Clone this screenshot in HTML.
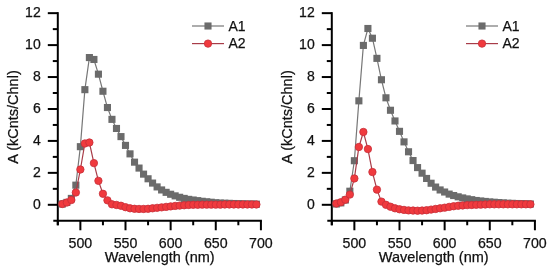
<!DOCTYPE html>
<html><head><meta charset="utf-8"><style>
text{stroke:#111;stroke-width:0.25px}
html,body{margin:0;padding:0;background:#fff;width:550px;height:268px;overflow:hidden}
svg{display:block;filter:blur(0.35px)}
</style></head><body>
<svg width="550" height="268" viewBox="0 0 550 268">
<rect width="550" height="268" fill="#fff"/>
<g stroke="#000" stroke-width="2" fill="none">
<line x1="57.80" y1="12.16" x2="57.80" y2="225.27"/>
<line x1="53.30" y1="220.77" x2="261.91" y2="220.77"/>
<line x1="47.80" y1="204.80" x2="57.80" y2="204.80"/>
<line x1="52.80" y1="188.83" x2="57.80" y2="188.83"/>
<line x1="47.80" y1="172.86" x2="57.80" y2="172.86"/>
<line x1="52.80" y1="156.89" x2="57.80" y2="156.89"/>
<line x1="47.80" y1="140.92" x2="57.80" y2="140.92"/>
<line x1="52.80" y1="124.95" x2="57.80" y2="124.95"/>
<line x1="47.80" y1="108.98" x2="57.80" y2="108.98"/>
<line x1="52.80" y1="93.01" x2="57.80" y2="93.01"/>
<line x1="47.80" y1="77.04" x2="57.80" y2="77.04"/>
<line x1="52.80" y1="61.07" x2="57.80" y2="61.07"/>
<line x1="47.80" y1="45.10" x2="57.80" y2="45.10"/>
<line x1="52.80" y1="29.13" x2="57.80" y2="29.13"/>
<line x1="47.80" y1="13.16" x2="57.80" y2="13.16"/>
<line x1="57.80" y1="220.77" x2="57.80" y2="225.27"/>
<line x1="80.37" y1="220.77" x2="80.37" y2="230.27"/>
<line x1="102.94" y1="220.77" x2="102.94" y2="225.27"/>
<line x1="125.50" y1="220.77" x2="125.50" y2="230.27"/>
<line x1="148.07" y1="220.77" x2="148.07" y2="225.27"/>
<line x1="170.64" y1="220.77" x2="170.64" y2="230.27"/>
<line x1="193.20" y1="220.77" x2="193.20" y2="225.27"/>
<line x1="215.77" y1="220.77" x2="215.77" y2="230.27"/>
<line x1="238.34" y1="220.77" x2="238.34" y2="225.27"/>
<line x1="260.91" y1="220.77" x2="260.91" y2="230.27"/>
</g>
<g style="font-family:'Liberation Sans',sans-serif;font-size:14px" fill="#111" text-anchor="end">
<text x="40.70" y="208.60">0</text>
<text x="40.70" y="176.66">2</text>
<text x="40.70" y="144.72">4</text>
<text x="40.70" y="112.78">6</text>
<text x="40.70" y="80.84">8</text>
<text x="40.70" y="48.90">10</text>
<text x="40.70" y="16.96">12</text>
</g>
<g style="font-family:'Liberation Sans',sans-serif;font-size:14.2px" fill="#111" text-anchor="middle">
<text x="80.37" y="248.1">500</text>
<text x="125.50" y="248.1">550</text>
<text x="170.64" y="248.1">600</text>
<text x="215.77" y="248.1">650</text>
<text x="260.91" y="248.1">700</text>
</g>
<text style="font-family:'Liberation Sans',sans-serif;font-size:14.5px" fill="#111" text-anchor="middle" x="159.70" y="261.7">Wavelength (nm)</text>
<text style="font-family:'Liberation Sans',sans-serif;font-size:14.5px" fill="#111" text-anchor="middle" transform="translate(18.40,117.00) rotate(-90)">A (kCnts/Chnl)</text>
<polyline points="62.31,204.00 66.83,202.40 71.34,198.41 75.85,185.16 80.37,146.67 84.88,89.66 89.39,57.56 93.91,59.47 98.42,74.17 102.94,91.25 107.45,107.54 111.96,119.36 116.48,128.46 120.99,136.61 125.50,145.39 130.02,153.86 134.53,162.16 139.04,168.07 143.56,174.14 148.07,178.77 152.58,183.08 157.10,186.91 161.61,189.95 166.12,192.34 170.64,194.26 175.15,195.86 179.66,197.29 184.18,198.41 188.69,199.37 193.20,200.01 197.72,200.65 202.23,201.29 206.75,201.77 211.26,202.24 215.77,202.72 220.29,203.04 224.80,203.20 229.31,203.36 233.83,203.52 238.34,203.68 242.85,203.84 247.37,204.00 251.88,204.00 256.39,204.16" fill="none" stroke="#777777" stroke-width="1.2"/>
<rect x="58.76" y="200.45" width="7.1" height="7.1" fill="#6b6b6b"/>
<rect x="63.28" y="198.85" width="7.1" height="7.1" fill="#6b6b6b"/>
<rect x="67.79" y="194.86" width="7.1" height="7.1" fill="#6b6b6b"/>
<rect x="72.30" y="181.61" width="7.1" height="7.1" fill="#6b6b6b"/>
<rect x="76.82" y="143.12" width="7.1" height="7.1" fill="#6b6b6b"/>
<rect x="81.33" y="86.11" width="7.1" height="7.1" fill="#6b6b6b"/>
<rect x="85.84" y="54.01" width="7.1" height="7.1" fill="#6b6b6b"/>
<rect x="90.36" y="55.92" width="7.1" height="7.1" fill="#6b6b6b"/>
<rect x="94.87" y="70.62" width="7.1" height="7.1" fill="#6b6b6b"/>
<rect x="99.39" y="87.70" width="7.1" height="7.1" fill="#6b6b6b"/>
<rect x="103.90" y="103.99" width="7.1" height="7.1" fill="#6b6b6b"/>
<rect x="108.41" y="115.81" width="7.1" height="7.1" fill="#6b6b6b"/>
<rect x="112.93" y="124.91" width="7.1" height="7.1" fill="#6b6b6b"/>
<rect x="117.44" y="133.06" width="7.1" height="7.1" fill="#6b6b6b"/>
<rect x="121.95" y="141.84" width="7.1" height="7.1" fill="#6b6b6b"/>
<rect x="126.47" y="150.31" width="7.1" height="7.1" fill="#6b6b6b"/>
<rect x="130.98" y="158.61" width="7.1" height="7.1" fill="#6b6b6b"/>
<rect x="135.49" y="164.52" width="7.1" height="7.1" fill="#6b6b6b"/>
<rect x="140.01" y="170.59" width="7.1" height="7.1" fill="#6b6b6b"/>
<rect x="144.52" y="175.22" width="7.1" height="7.1" fill="#6b6b6b"/>
<rect x="149.03" y="179.53" width="7.1" height="7.1" fill="#6b6b6b"/>
<rect x="153.55" y="183.36" width="7.1" height="7.1" fill="#6b6b6b"/>
<rect x="158.06" y="186.40" width="7.1" height="7.1" fill="#6b6b6b"/>
<rect x="162.57" y="188.79" width="7.1" height="7.1" fill="#6b6b6b"/>
<rect x="167.09" y="190.71" width="7.1" height="7.1" fill="#6b6b6b"/>
<rect x="171.60" y="192.31" width="7.1" height="7.1" fill="#6b6b6b"/>
<rect x="176.11" y="193.74" width="7.1" height="7.1" fill="#6b6b6b"/>
<rect x="180.63" y="194.86" width="7.1" height="7.1" fill="#6b6b6b"/>
<rect x="185.14" y="195.82" width="7.1" height="7.1" fill="#6b6b6b"/>
<rect x="189.65" y="196.46" width="7.1" height="7.1" fill="#6b6b6b"/>
<rect x="194.17" y="197.10" width="7.1" height="7.1" fill="#6b6b6b"/>
<rect x="198.68" y="197.74" width="7.1" height="7.1" fill="#6b6b6b"/>
<rect x="203.20" y="198.22" width="7.1" height="7.1" fill="#6b6b6b"/>
<rect x="207.71" y="198.69" width="7.1" height="7.1" fill="#6b6b6b"/>
<rect x="212.22" y="199.17" width="7.1" height="7.1" fill="#6b6b6b"/>
<rect x="216.74" y="199.49" width="7.1" height="7.1" fill="#6b6b6b"/>
<rect x="221.25" y="199.65" width="7.1" height="7.1" fill="#6b6b6b"/>
<rect x="225.76" y="199.81" width="7.1" height="7.1" fill="#6b6b6b"/>
<rect x="230.28" y="199.97" width="7.1" height="7.1" fill="#6b6b6b"/>
<rect x="234.79" y="200.13" width="7.1" height="7.1" fill="#6b6b6b"/>
<rect x="239.30" y="200.29" width="7.1" height="7.1" fill="#6b6b6b"/>
<rect x="243.82" y="200.45" width="7.1" height="7.1" fill="#6b6b6b"/>
<rect x="248.33" y="200.45" width="7.1" height="7.1" fill="#6b6b6b"/>
<rect x="252.84" y="200.61" width="7.1" height="7.1" fill="#6b6b6b"/>
<polyline points="62.31,204.00 66.83,202.56 71.34,200.01 75.85,192.50 80.37,169.51 84.88,143.48 89.39,142.52 93.91,163.12 98.42,180.84 102.94,193.78 107.45,200.33 111.96,204.32 116.48,204.96 120.99,205.76 125.50,207.20 130.02,208.31 134.53,208.79 139.04,208.95 143.56,208.95 148.07,208.79 152.58,208.31 157.10,207.83 161.61,207.36 166.12,206.88 170.64,206.40 175.15,205.92 179.66,205.60 184.18,205.28 188.69,204.96 193.20,204.80 197.72,204.80 202.23,204.64 206.75,204.64 211.26,204.64 215.77,204.64 220.29,204.64 224.80,204.48 229.31,204.48 233.83,204.48 238.34,204.48 242.85,204.48 247.37,204.48 251.88,204.48 256.39,204.48" fill="none" stroke="#a83c48" stroke-width="1.2"/>
<circle cx="62.31" cy="204.00" r="3.7" fill="#f03a3e" stroke="#c62e38" stroke-width="0.8"/>
<circle cx="66.83" cy="202.56" r="3.7" fill="#f03a3e" stroke="#c62e38" stroke-width="0.8"/>
<circle cx="71.34" cy="200.01" r="3.7" fill="#f03a3e" stroke="#c62e38" stroke-width="0.8"/>
<circle cx="75.85" cy="192.50" r="3.7" fill="#f03a3e" stroke="#c62e38" stroke-width="0.8"/>
<circle cx="80.37" cy="169.51" r="3.7" fill="#f03a3e" stroke="#c62e38" stroke-width="0.8"/>
<circle cx="84.88" cy="143.48" r="3.7" fill="#f03a3e" stroke="#c62e38" stroke-width="0.8"/>
<circle cx="89.39" cy="142.52" r="3.7" fill="#f03a3e" stroke="#c62e38" stroke-width="0.8"/>
<circle cx="93.91" cy="163.12" r="3.7" fill="#f03a3e" stroke="#c62e38" stroke-width="0.8"/>
<circle cx="98.42" cy="180.84" r="3.7" fill="#f03a3e" stroke="#c62e38" stroke-width="0.8"/>
<circle cx="102.94" cy="193.78" r="3.7" fill="#f03a3e" stroke="#c62e38" stroke-width="0.8"/>
<circle cx="107.45" cy="200.33" r="3.7" fill="#f03a3e" stroke="#c62e38" stroke-width="0.8"/>
<circle cx="111.96" cy="204.32" r="3.7" fill="#f03a3e" stroke="#c62e38" stroke-width="0.8"/>
<circle cx="116.48" cy="204.96" r="3.7" fill="#f03a3e" stroke="#c62e38" stroke-width="0.8"/>
<circle cx="120.99" cy="205.76" r="3.7" fill="#f03a3e" stroke="#c62e38" stroke-width="0.8"/>
<circle cx="125.50" cy="207.20" r="3.7" fill="#f03a3e" stroke="#c62e38" stroke-width="0.8"/>
<circle cx="130.02" cy="208.31" r="3.7" fill="#f03a3e" stroke="#c62e38" stroke-width="0.8"/>
<circle cx="134.53" cy="208.79" r="3.7" fill="#f03a3e" stroke="#c62e38" stroke-width="0.8"/>
<circle cx="139.04" cy="208.95" r="3.7" fill="#f03a3e" stroke="#c62e38" stroke-width="0.8"/>
<circle cx="143.56" cy="208.95" r="3.7" fill="#f03a3e" stroke="#c62e38" stroke-width="0.8"/>
<circle cx="148.07" cy="208.79" r="3.7" fill="#f03a3e" stroke="#c62e38" stroke-width="0.8"/>
<circle cx="152.58" cy="208.31" r="3.7" fill="#f03a3e" stroke="#c62e38" stroke-width="0.8"/>
<circle cx="157.10" cy="207.83" r="3.7" fill="#f03a3e" stroke="#c62e38" stroke-width="0.8"/>
<circle cx="161.61" cy="207.36" r="3.7" fill="#f03a3e" stroke="#c62e38" stroke-width="0.8"/>
<circle cx="166.12" cy="206.88" r="3.7" fill="#f03a3e" stroke="#c62e38" stroke-width="0.8"/>
<circle cx="170.64" cy="206.40" r="3.7" fill="#f03a3e" stroke="#c62e38" stroke-width="0.8"/>
<circle cx="175.15" cy="205.92" r="3.7" fill="#f03a3e" stroke="#c62e38" stroke-width="0.8"/>
<circle cx="179.66" cy="205.60" r="3.7" fill="#f03a3e" stroke="#c62e38" stroke-width="0.8"/>
<circle cx="184.18" cy="205.28" r="3.7" fill="#f03a3e" stroke="#c62e38" stroke-width="0.8"/>
<circle cx="188.69" cy="204.96" r="3.7" fill="#f03a3e" stroke="#c62e38" stroke-width="0.8"/>
<circle cx="193.20" cy="204.80" r="3.7" fill="#f03a3e" stroke="#c62e38" stroke-width="0.8"/>
<circle cx="197.72" cy="204.80" r="3.7" fill="#f03a3e" stroke="#c62e38" stroke-width="0.8"/>
<circle cx="202.23" cy="204.64" r="3.7" fill="#f03a3e" stroke="#c62e38" stroke-width="0.8"/>
<circle cx="206.75" cy="204.64" r="3.7" fill="#f03a3e" stroke="#c62e38" stroke-width="0.8"/>
<circle cx="211.26" cy="204.64" r="3.7" fill="#f03a3e" stroke="#c62e38" stroke-width="0.8"/>
<circle cx="215.77" cy="204.64" r="3.7" fill="#f03a3e" stroke="#c62e38" stroke-width="0.8"/>
<circle cx="220.29" cy="204.64" r="3.7" fill="#f03a3e" stroke="#c62e38" stroke-width="0.8"/>
<circle cx="224.80" cy="204.48" r="3.7" fill="#f03a3e" stroke="#c62e38" stroke-width="0.8"/>
<circle cx="229.31" cy="204.48" r="3.7" fill="#f03a3e" stroke="#c62e38" stroke-width="0.8"/>
<circle cx="233.83" cy="204.48" r="3.7" fill="#f03a3e" stroke="#c62e38" stroke-width="0.8"/>
<circle cx="238.34" cy="204.48" r="3.7" fill="#f03a3e" stroke="#c62e38" stroke-width="0.8"/>
<circle cx="242.85" cy="204.48" r="3.7" fill="#f03a3e" stroke="#c62e38" stroke-width="0.8"/>
<circle cx="247.37" cy="204.48" r="3.7" fill="#f03a3e" stroke="#c62e38" stroke-width="0.8"/>
<circle cx="251.88" cy="204.48" r="3.7" fill="#f03a3e" stroke="#c62e38" stroke-width="0.8"/>
<circle cx="256.39" cy="204.48" r="3.7" fill="#f03a3e" stroke="#c62e38" stroke-width="0.8"/>
<line x1="192.00" y1="26" x2="224.00" y2="26" stroke="#777777" stroke-width="1.2"/>
<rect x="204.45" y="22.45" width="7.1" height="7.1" fill="#6b6b6b"/>
<line x1="192.00" y1="43.6" x2="224.00" y2="43.6" stroke="#a83c48" stroke-width="1.2"/>
<circle cx="208.00" cy="43.6" r="3.7" fill="#f03a3e" stroke="#c62e38" stroke-width="0.8"/>
<g style="font-family:'Liberation Sans',sans-serif;font-size:14px" fill="#111">
<text x="228.50" y="30.9">A1</text>
<text x="228.50" y="47.9">A2</text>
</g>
<g stroke="#000" stroke-width="2" fill="none">
<line x1="331.80" y1="12.16" x2="331.80" y2="225.27"/>
<line x1="327.30" y1="220.77" x2="535.91" y2="220.77"/>
<line x1="321.80" y1="204.80" x2="331.80" y2="204.80"/>
<line x1="326.80" y1="188.83" x2="331.80" y2="188.83"/>
<line x1="321.80" y1="172.86" x2="331.80" y2="172.86"/>
<line x1="326.80" y1="156.89" x2="331.80" y2="156.89"/>
<line x1="321.80" y1="140.92" x2="331.80" y2="140.92"/>
<line x1="326.80" y1="124.95" x2="331.80" y2="124.95"/>
<line x1="321.80" y1="108.98" x2="331.80" y2="108.98"/>
<line x1="326.80" y1="93.01" x2="331.80" y2="93.01"/>
<line x1="321.80" y1="77.04" x2="331.80" y2="77.04"/>
<line x1="326.80" y1="61.07" x2="331.80" y2="61.07"/>
<line x1="321.80" y1="45.10" x2="331.80" y2="45.10"/>
<line x1="326.80" y1="29.13" x2="331.80" y2="29.13"/>
<line x1="321.80" y1="13.16" x2="331.80" y2="13.16"/>
<line x1="331.80" y1="220.77" x2="331.80" y2="225.27"/>
<line x1="354.37" y1="220.77" x2="354.37" y2="230.27"/>
<line x1="376.94" y1="220.77" x2="376.94" y2="225.27"/>
<line x1="399.50" y1="220.77" x2="399.50" y2="230.27"/>
<line x1="422.07" y1="220.77" x2="422.07" y2="225.27"/>
<line x1="444.64" y1="220.77" x2="444.64" y2="230.27"/>
<line x1="467.21" y1="220.77" x2="467.21" y2="225.27"/>
<line x1="489.77" y1="220.77" x2="489.77" y2="230.27"/>
<line x1="512.34" y1="220.77" x2="512.34" y2="225.27"/>
<line x1="534.91" y1="220.77" x2="534.91" y2="230.27"/>
</g>
<g style="font-family:'Liberation Sans',sans-serif;font-size:14px" fill="#111" text-anchor="end">
<text x="314.70" y="208.60">0</text>
<text x="314.70" y="176.66">2</text>
<text x="314.70" y="144.72">4</text>
<text x="314.70" y="112.78">6</text>
<text x="314.70" y="80.84">8</text>
<text x="314.70" y="48.90">10</text>
<text x="314.70" y="16.96">12</text>
</g>
<g style="font-family:'Liberation Sans',sans-serif;font-size:14.2px" fill="#111" text-anchor="middle">
<text x="354.37" y="248.1">500</text>
<text x="399.50" y="248.1">550</text>
<text x="444.64" y="248.1">600</text>
<text x="489.77" y="248.1">650</text>
<text x="534.91" y="248.1">700</text>
</g>
<text style="font-family:'Liberation Sans',sans-serif;font-size:14.5px" fill="#111" text-anchor="middle" x="433.70" y="261.7">Wavelength (nm)</text>
<text style="font-family:'Liberation Sans',sans-serif;font-size:14.5px" fill="#111" text-anchor="middle" transform="translate(292.40,117.00) rotate(-90)">A (kCnts/Chnl)</text>
<polyline points="336.31,204.00 340.83,202.88 345.34,200.01 349.85,191.23 354.37,160.72 358.88,100.84 363.39,45.42 367.91,28.49 372.42,38.23 376.94,58.36 381.45,79.75 385.96,97.80 390.48,110.26 394.99,120.96 399.50,131.34 404.02,141.88 408.53,151.78 413.04,160.56 417.56,167.59 422.07,173.18 426.58,178.45 431.10,183.24 435.61,187.07 440.12,189.95 444.64,192.02 449.15,194.10 453.66,195.54 458.18,196.81 462.69,197.93 467.21,198.89 471.72,199.69 476.23,200.49 480.75,200.97 485.26,201.45 489.77,201.93 494.29,202.24 498.80,202.56 503.31,202.88 507.83,203.20 512.34,203.36 516.85,203.52 521.37,203.68 525.88,203.84 530.39,204.00" fill="none" stroke="#777777" stroke-width="1.2"/>
<rect x="332.76" y="200.45" width="7.1" height="7.1" fill="#6b6b6b"/>
<rect x="337.28" y="199.33" width="7.1" height="7.1" fill="#6b6b6b"/>
<rect x="341.79" y="196.46" width="7.1" height="7.1" fill="#6b6b6b"/>
<rect x="346.30" y="187.68" width="7.1" height="7.1" fill="#6b6b6b"/>
<rect x="350.82" y="157.17" width="7.1" height="7.1" fill="#6b6b6b"/>
<rect x="355.33" y="97.29" width="7.1" height="7.1" fill="#6b6b6b"/>
<rect x="359.84" y="41.87" width="7.1" height="7.1" fill="#6b6b6b"/>
<rect x="364.36" y="24.94" width="7.1" height="7.1" fill="#6b6b6b"/>
<rect x="368.87" y="34.68" width="7.1" height="7.1" fill="#6b6b6b"/>
<rect x="373.38" y="54.81" width="7.1" height="7.1" fill="#6b6b6b"/>
<rect x="377.90" y="76.20" width="7.1" height="7.1" fill="#6b6b6b"/>
<rect x="382.41" y="94.25" width="7.1" height="7.1" fill="#6b6b6b"/>
<rect x="386.93" y="106.71" width="7.1" height="7.1" fill="#6b6b6b"/>
<rect x="391.44" y="117.41" width="7.1" height="7.1" fill="#6b6b6b"/>
<rect x="395.95" y="127.79" width="7.1" height="7.1" fill="#6b6b6b"/>
<rect x="400.47" y="138.33" width="7.1" height="7.1" fill="#6b6b6b"/>
<rect x="404.98" y="148.23" width="7.1" height="7.1" fill="#6b6b6b"/>
<rect x="409.49" y="157.01" width="7.1" height="7.1" fill="#6b6b6b"/>
<rect x="414.01" y="164.04" width="7.1" height="7.1" fill="#6b6b6b"/>
<rect x="418.52" y="169.63" width="7.1" height="7.1" fill="#6b6b6b"/>
<rect x="423.03" y="174.90" width="7.1" height="7.1" fill="#6b6b6b"/>
<rect x="427.55" y="179.69" width="7.1" height="7.1" fill="#6b6b6b"/>
<rect x="432.06" y="183.52" width="7.1" height="7.1" fill="#6b6b6b"/>
<rect x="436.57" y="186.40" width="7.1" height="7.1" fill="#6b6b6b"/>
<rect x="441.09" y="188.47" width="7.1" height="7.1" fill="#6b6b6b"/>
<rect x="445.60" y="190.55" width="7.1" height="7.1" fill="#6b6b6b"/>
<rect x="450.11" y="191.99" width="7.1" height="7.1" fill="#6b6b6b"/>
<rect x="454.63" y="193.26" width="7.1" height="7.1" fill="#6b6b6b"/>
<rect x="459.14" y="194.38" width="7.1" height="7.1" fill="#6b6b6b"/>
<rect x="463.66" y="195.34" width="7.1" height="7.1" fill="#6b6b6b"/>
<rect x="468.17" y="196.14" width="7.1" height="7.1" fill="#6b6b6b"/>
<rect x="472.68" y="196.94" width="7.1" height="7.1" fill="#6b6b6b"/>
<rect x="477.20" y="197.42" width="7.1" height="7.1" fill="#6b6b6b"/>
<rect x="481.71" y="197.90" width="7.1" height="7.1" fill="#6b6b6b"/>
<rect x="486.22" y="198.38" width="7.1" height="7.1" fill="#6b6b6b"/>
<rect x="490.74" y="198.69" width="7.1" height="7.1" fill="#6b6b6b"/>
<rect x="495.25" y="199.01" width="7.1" height="7.1" fill="#6b6b6b"/>
<rect x="499.76" y="199.33" width="7.1" height="7.1" fill="#6b6b6b"/>
<rect x="504.28" y="199.65" width="7.1" height="7.1" fill="#6b6b6b"/>
<rect x="508.79" y="199.81" width="7.1" height="7.1" fill="#6b6b6b"/>
<rect x="513.30" y="199.97" width="7.1" height="7.1" fill="#6b6b6b"/>
<rect x="517.82" y="200.13" width="7.1" height="7.1" fill="#6b6b6b"/>
<rect x="522.33" y="200.29" width="7.1" height="7.1" fill="#6b6b6b"/>
<rect x="526.84" y="200.45" width="7.1" height="7.1" fill="#6b6b6b"/>
<polyline points="336.31,203.52 340.83,202.24 345.34,199.69 349.85,194.58 354.37,178.45 358.88,146.99 363.39,131.98 367.91,149.06 372.42,172.06 376.94,189.63 381.45,201.61 385.96,204.80 390.48,206.72 394.99,208.31 399.50,209.27 404.02,209.91 408.53,210.39 413.04,210.55 417.56,210.71 422.07,210.55 426.58,210.23 431.10,209.59 435.61,208.95 440.12,208.31 444.64,207.67 449.15,206.88 453.66,206.24 458.18,205.76 462.69,205.44 467.21,205.12 471.72,204.96 476.23,204.80 480.75,204.64 485.26,204.48 489.77,204.32 494.29,204.32 498.80,204.32 503.31,204.32 507.83,204.32 512.34,204.32 516.85,204.32 521.37,204.32 525.88,204.32 530.39,204.32" fill="none" stroke="#a83c48" stroke-width="1.2"/>
<circle cx="336.31" cy="203.52" r="3.7" fill="#f03a3e" stroke="#c62e38" stroke-width="0.8"/>
<circle cx="340.83" cy="202.24" r="3.7" fill="#f03a3e" stroke="#c62e38" stroke-width="0.8"/>
<circle cx="345.34" cy="199.69" r="3.7" fill="#f03a3e" stroke="#c62e38" stroke-width="0.8"/>
<circle cx="349.85" cy="194.58" r="3.7" fill="#f03a3e" stroke="#c62e38" stroke-width="0.8"/>
<circle cx="354.37" cy="178.45" r="3.7" fill="#f03a3e" stroke="#c62e38" stroke-width="0.8"/>
<circle cx="358.88" cy="146.99" r="3.7" fill="#f03a3e" stroke="#c62e38" stroke-width="0.8"/>
<circle cx="363.39" cy="131.98" r="3.7" fill="#f03a3e" stroke="#c62e38" stroke-width="0.8"/>
<circle cx="367.91" cy="149.06" r="3.7" fill="#f03a3e" stroke="#c62e38" stroke-width="0.8"/>
<circle cx="372.42" cy="172.06" r="3.7" fill="#f03a3e" stroke="#c62e38" stroke-width="0.8"/>
<circle cx="376.94" cy="189.63" r="3.7" fill="#f03a3e" stroke="#c62e38" stroke-width="0.8"/>
<circle cx="381.45" cy="201.61" r="3.7" fill="#f03a3e" stroke="#c62e38" stroke-width="0.8"/>
<circle cx="385.96" cy="204.80" r="3.7" fill="#f03a3e" stroke="#c62e38" stroke-width="0.8"/>
<circle cx="390.48" cy="206.72" r="3.7" fill="#f03a3e" stroke="#c62e38" stroke-width="0.8"/>
<circle cx="394.99" cy="208.31" r="3.7" fill="#f03a3e" stroke="#c62e38" stroke-width="0.8"/>
<circle cx="399.50" cy="209.27" r="3.7" fill="#f03a3e" stroke="#c62e38" stroke-width="0.8"/>
<circle cx="404.02" cy="209.91" r="3.7" fill="#f03a3e" stroke="#c62e38" stroke-width="0.8"/>
<circle cx="408.53" cy="210.39" r="3.7" fill="#f03a3e" stroke="#c62e38" stroke-width="0.8"/>
<circle cx="413.04" cy="210.55" r="3.7" fill="#f03a3e" stroke="#c62e38" stroke-width="0.8"/>
<circle cx="417.56" cy="210.71" r="3.7" fill="#f03a3e" stroke="#c62e38" stroke-width="0.8"/>
<circle cx="422.07" cy="210.55" r="3.7" fill="#f03a3e" stroke="#c62e38" stroke-width="0.8"/>
<circle cx="426.58" cy="210.23" r="3.7" fill="#f03a3e" stroke="#c62e38" stroke-width="0.8"/>
<circle cx="431.10" cy="209.59" r="3.7" fill="#f03a3e" stroke="#c62e38" stroke-width="0.8"/>
<circle cx="435.61" cy="208.95" r="3.7" fill="#f03a3e" stroke="#c62e38" stroke-width="0.8"/>
<circle cx="440.12" cy="208.31" r="3.7" fill="#f03a3e" stroke="#c62e38" stroke-width="0.8"/>
<circle cx="444.64" cy="207.67" r="3.7" fill="#f03a3e" stroke="#c62e38" stroke-width="0.8"/>
<circle cx="449.15" cy="206.88" r="3.7" fill="#f03a3e" stroke="#c62e38" stroke-width="0.8"/>
<circle cx="453.66" cy="206.24" r="3.7" fill="#f03a3e" stroke="#c62e38" stroke-width="0.8"/>
<circle cx="458.18" cy="205.76" r="3.7" fill="#f03a3e" stroke="#c62e38" stroke-width="0.8"/>
<circle cx="462.69" cy="205.44" r="3.7" fill="#f03a3e" stroke="#c62e38" stroke-width="0.8"/>
<circle cx="467.21" cy="205.12" r="3.7" fill="#f03a3e" stroke="#c62e38" stroke-width="0.8"/>
<circle cx="471.72" cy="204.96" r="3.7" fill="#f03a3e" stroke="#c62e38" stroke-width="0.8"/>
<circle cx="476.23" cy="204.80" r="3.7" fill="#f03a3e" stroke="#c62e38" stroke-width="0.8"/>
<circle cx="480.75" cy="204.64" r="3.7" fill="#f03a3e" stroke="#c62e38" stroke-width="0.8"/>
<circle cx="485.26" cy="204.48" r="3.7" fill="#f03a3e" stroke="#c62e38" stroke-width="0.8"/>
<circle cx="489.77" cy="204.32" r="3.7" fill="#f03a3e" stroke="#c62e38" stroke-width="0.8"/>
<circle cx="494.29" cy="204.32" r="3.7" fill="#f03a3e" stroke="#c62e38" stroke-width="0.8"/>
<circle cx="498.80" cy="204.32" r="3.7" fill="#f03a3e" stroke="#c62e38" stroke-width="0.8"/>
<circle cx="503.31" cy="204.32" r="3.7" fill="#f03a3e" stroke="#c62e38" stroke-width="0.8"/>
<circle cx="507.83" cy="204.32" r="3.7" fill="#f03a3e" stroke="#c62e38" stroke-width="0.8"/>
<circle cx="512.34" cy="204.32" r="3.7" fill="#f03a3e" stroke="#c62e38" stroke-width="0.8"/>
<circle cx="516.85" cy="204.32" r="3.7" fill="#f03a3e" stroke="#c62e38" stroke-width="0.8"/>
<circle cx="521.37" cy="204.32" r="3.7" fill="#f03a3e" stroke="#c62e38" stroke-width="0.8"/>
<circle cx="525.88" cy="204.32" r="3.7" fill="#f03a3e" stroke="#c62e38" stroke-width="0.8"/>
<circle cx="530.39" cy="204.32" r="3.7" fill="#f03a3e" stroke="#c62e38" stroke-width="0.8"/>
<line x1="466.00" y1="26" x2="498.00" y2="26" stroke="#777777" stroke-width="1.2"/>
<rect x="478.45" y="22.45" width="7.1" height="7.1" fill="#6b6b6b"/>
<line x1="466.00" y1="43.6" x2="498.00" y2="43.6" stroke="#a83c48" stroke-width="1.2"/>
<circle cx="482.00" cy="43.6" r="3.7" fill="#f03a3e" stroke="#c62e38" stroke-width="0.8"/>
<g style="font-family:'Liberation Sans',sans-serif;font-size:14px" fill="#111">
<text x="502.50" y="30.9">A1</text>
<text x="502.50" y="47.9">A2</text>
</g>
</svg>
</body></html>
